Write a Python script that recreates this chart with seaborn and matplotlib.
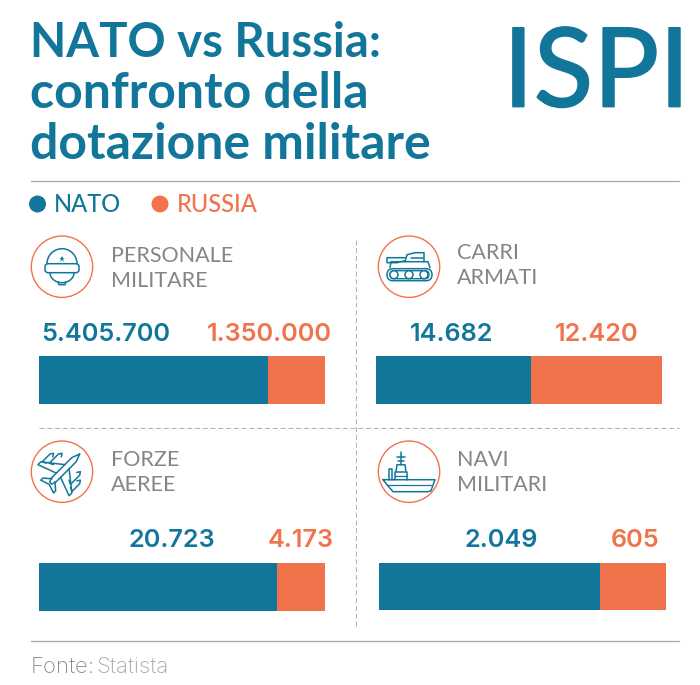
import numpy as np
import pandas as pd
import matplotlib
matplotlib.use('Agg')
import matplotlib.pyplot as plt
import matplotlib.patheffects as pe
from matplotlib.patches import Circle, FancyBboxPatch
import seaborn as sns

categories = ['Personale militare', 'Carri armati', 'Forze aeree', 'Navi militari']
label_lines = [['PERSONALE', 'MILITARE'], ['CARRI', 'ARMATI'], ['FORZE', 'AEREE'], ['NAVI', 'MILITARI']]
nato = [5405700, 14682, 20723, 2049]
russia = [1350000, 12420, 4173, 605]
title_lines = ['NATO vs Russia:', 'confronto della', 'dotazione militare']

TEAL = '#12769b'
ORANGE = '#f1734b'
GREY = '#858585'
RULE = '#aeaeae'
W, H = 700, 685

# pixel boxes of the bars: left, right, top, bottom
bar_boxes = [(39, 325, 356, 404), (376.3, 662, 355.7, 403.7), (39, 324.7, 563.3, 611), (379.3, 665.7, 563.3, 610)]
icon_centers = [(62, 266.7), (409, 266.7), (62, 471.7), (409, 471.7)]
label_pos = [(111, 262, 287), (457, 259, 284), (111, 466, 491), (457, 466, 491)]
value_pos = [(41, 207, 341), (410, 555, 341), (129, 268, 547), (464, 611, 547)]

sns.set_theme(style='white')
plt.rcParams['font.family'] = ['Lato', 'DejaVu Sans']

fig = plt.figure(figsize=(W / 100, H / 100), dpi=100, facecolor='white')
page = fig.add_axes([0, 0, 1, 1])
page.set_xlim(0, W)
page.set_ylim(H, 0)
page.axis('off')


def fmt(v):
    return f'{v:,}'.replace(',', '.')


def stroke(pts, cx, cy, close=False, lw=1.1, rot=0):
    # icon lines, relative to the icon center
    pts = np.array(pts, dtype=float)
    if rot:
        a = np.radians(rot)
        pts = pts @ np.array([[np.cos(a), np.sin(a)], [-np.sin(a), np.cos(a)]])
    if close:
        pts = np.vstack([pts, pts[0]])
    page.plot(pts[:, 0] + cx, pts[:, 1] + cy, color=TEAL, lw=lw, solid_joinstyle='round', solid_capstyle='round')


def helmet(cx, cy):
    t = np.radians(np.linspace(180, 360, 30))
    stroke(np.c_[15 * np.cos(t), -3 + 15 * np.sin(t)], cx, cy)
    page.add_patch(FancyBboxPatch((cx - 17, cy - 3), 34, 9, boxstyle='round,pad=0,rounding_size=3', fc='none', ec=TEAL, lw=1.1))
    t = np.radians(np.linspace(0, 180, 30))
    stroke(np.c_[12 * np.cos(t), 6 + 10 * np.sin(t)], cx, cy)
    stroke([(-4, 15), (-3, 18), (3, 18), (4, 15)], cx, cy)
    page.plot(cx, cy - 8, marker='*', ms=4.5, color=TEAL, mew=0)


def tank(cx, cy):
    page.add_patch(FancyBboxPatch((cx - 22, cy + 2), 45, 12, boxstyle='round,pad=0,rounding_size=6', fc='none', ec=TEAL, lw=1.1))
    page.add_patch(FancyBboxPatch((cx - 19, cy + 4), 39, 8, boxstyle='round,pad=0,rounding_size=4', fc='none', ec=TEAL, lw=1))
    for dx in (-15, 0, 15):
        page.add_patch(Circle((cx + dx, cy + 8), 4, fc='white', ec=TEAL, lw=1.1, zorder=3))
    stroke([(-19, 1), (-18, -5), (19, -5), (21, 1)], cx, cy)
    stroke([(-4, -5), (-2, -12), (6, -14), (15, -14), (15, -5)], cx, cy)
    stroke([(-4, -9), (-22, -9), (-22, -4), (-12, -4), (-4, -6)], cx, cy)
    stroke([(2, -9), (14, -9)], cx, cy)


def jet(cx, cy):
    r = 45
    stroke([(0, -25), (3, -17), (3, 12), (1.5, 16), (-1.5, 16), (-3, 12), (-3, -17)], cx, cy, True, rot=r)
    stroke([(3, -7), (22, 8), (22, 12), (3, 5)], cx, cy, rot=r)
    stroke([(-3, -7), (-22, 8), (-22, 12), (-3, 5)], cx, cy, rot=r)
    stroke([(2, 12), (9, 18), (9, 21), (0, 18), (-9, 21), (-9, 18), (-2, 12)], cx, cy, rot=r)
    for s in (1, -1):
        stroke([(s * 11, -10), (s * 13, -13), (s * 15, -10), (s * 15, 3), (s * 11, 1)], cx, cy, rot=r)
        stroke([(s * 17, -4), (s * 19, -7), (s * 21, -4), (s * 21, 7), (s * 17, 5)], cx, cy, rot=r)


def ship(cx, cy):
    stroke([(-26, 8), (26, 8), (22, 19), (19, 20), (-16, 20), (-22, 13)], cx, cy, True)
    stroke([(-22, 13), (22, 13)], cx, cy, lw=0.9)
    stroke([(-20, 8), (-20, -3), (-17, -3), (-17, 8)], cx, cy)
    stroke([(-14, 8), (-14, 0), (-2, 0), (-2, 8)], cx, cy)
    stroke([(-13, 0), (-12, -7), (-4, -7), (-3, 0)], cx, cy)
    stroke([(-8, -7), (-8, -20)], cx, cy)
    stroke([(-12, -15), (-4, -15)], cx, cy)
    stroke([(-11, -11), (-5, -11)], cx, cy)
    stroke([(-14, 4), (-2, 4)], cx, cy, lw=0.9)


icon_funcs = [helmet, tank, jet, ship]

# title, logo
for line, y, size in zip(title_lines, [57, 108, 159], [34, 36, 36]):
    page.text(30, y, line, color=TEAL, fontsize=size, fontweight='bold', va='baseline')
logo = page.text(503, 106.5, 'ISPI', color=TEAL, fontsize=79, va='baseline')
logo.set_path_effects([pe.withStroke(linewidth=1.3, foreground=TEAL)])

# rules
page.plot([31, 679], [180.5, 180.5], color=RULE, lw=1)
page.plot([31, 679], [641, 641], color=RULE, lw=1)
page.plot([39, 679], [427.5, 427.5], color=RULE, lw=0.7, ls=(0, (5, 3)))
page.plot([355.5, 355.5], [240, 627], color=RULE, lw=0.7, ls=(0, (5, 3)))

# legend
page.add_patch(Circle((37.5, 204), 8.5, fc=TEAL, ec='none'))
page.text(54, 212, 'NATO', color=TEAL, fontsize=17, va='baseline', fontweight='medium')
page.add_patch(Circle((160, 204), 8.5, fc=ORANGE, ec='none'))
page.text(177, 212, 'RUSSIA', color=ORANGE, fontsize=17, va='baseline', fontweight='medium')

for i, cat in enumerate(categories):
    cx, cy = icon_centers[i]
    page.add_patch(Circle((cx, cy), 30.7, fc='white', ec=ORANGE, lw=1))
    icon_funcs[i](cx, cy)

    lx, y1, y2 = label_pos[i]
    page.text(lx, y1, label_lines[i][0], color=GREY, fontsize=15.5, va='baseline')
    page.text(lx, y2, label_lines[i][1], color=GREY, fontsize=15.5, va='baseline')

    nx, rx, vy = value_pos[i]
    page.text(nx, vy, fmt(nato[i]), color=TEAL, fontsize=18.2, family='Inter', fontweight='semibold', va='baseline')
    page.text(rx, vy, fmt(russia[i]), color=ORANGE, fontsize=18.2, family='Inter', fontweight='semibold', va='baseline')

    # stacked share bar: total in orange, nato over it
    left, right, top, bottom = bar_boxes[i]
    ax = fig.add_axes([left / W, 1 - bottom / H, (right - left) / W, (bottom - top) / H])
    df = pd.DataFrame({'cat': [cat], 'nato': [nato[i]], 'total': [nato[i] + russia[i]]})
    sns.barplot(data=df, x='total', y='cat', color=ORANGE, width=1, saturation=1, linewidth=0, ax=ax)
    sns.barplot(data=df, x='nato', y='cat', color=TEAL, width=1, saturation=1, linewidth=0, ax=ax)
    ax.set_xlim(0, nato[i] + russia[i])
    ax.set_ylim(0.5, -0.5)
    ax.axis('off')

# source
page.text(31, 673, 'Fonte:', color='#8a8a8a', fontsize=16, family='Inter', fontweight='light', va='baseline')
page.text(96, 673, 'Statista', color='#a8a8a8', fontsize=16, family='Inter', fontweight='light', va='baseline')

fig.savefig('out.png', dpi=100)
